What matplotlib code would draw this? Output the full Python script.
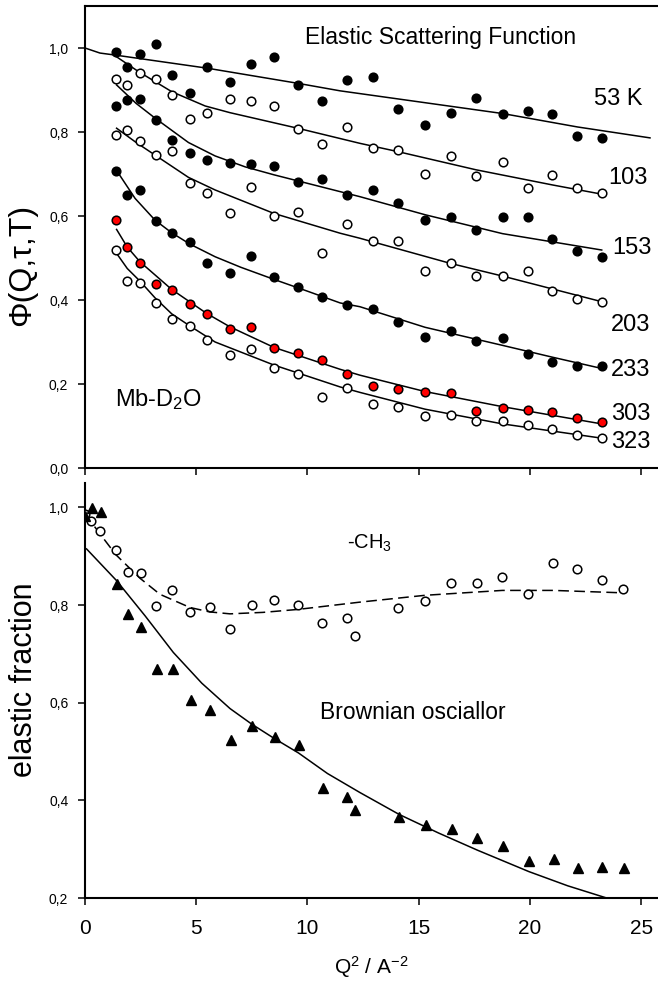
import matplotlib
matplotlib.use("Agg")
import matplotlib.pyplot as plt
from matplotlib.ticker import FuncFormatter

plt.rcParams['font.family'] = ['Liberation Sans', 'DejaVu Sans']
plt.rcParams['mathtext.default'] = 'regular'

# Q^2 grid of the measured points (top panel)
q2 = [1.38, 1.90, 2.47, 3.18, 3.93, 4.72, 5.49, 6.52, 7.46, 8.50, 9.56, 10.67,
      11.80, 12.93, 14.09, 15.29, 16.44, 17.58, 18.77, 19.93, 21.01, 22.14, 23.23]

phi_53 = [0.990, 0.955, 0.986, 1.010, 0.935, 0.894, 0.955, 0.920, 0.962, 0.979, 0.912, 0.874,
          0.925, 0.932, 0.854, 0.817, 0.846, 0.882, 0.844, 0.851, 0.844, 0.790, 0.786]
phi_103 = [0.927, 0.912, 0.940, 0.926, 0.889, 0.830, 0.846, 0.878, 0.875, 0.861, 0.807, 0.771,
           0.813, 0.763, 0.756, 0.700, 0.744, 0.696, 0.729, 0.667, 0.698, 0.667, 0.655]
phi_153 = [0.863, 0.876, 0.879, 0.829, 0.781, 0.750, 0.733, 0.726, 0.725, 0.720, 0.682, 0.687,
           0.649, 0.663, 0.630, 0.590, 0.597, 0.567, 0.597, 0.597, 0.545, 0.517, 0.503]
phi_203 = [0.793, 0.805, 0.779, 0.745, 0.755, 0.678, 0.654, 0.606, 0.668, 0.601, 0.610, 0.511,
           0.581, 0.541, 0.541, 0.468, 0.488, 0.457, 0.457, 0.468, 0.421, 0.402, 0.396]
phi_233 = [0.706, 0.651, 0.661, 0.589, 0.559, 0.537, 0.488, 0.464, 0.505, 0.454, 0.432, 0.408,
           0.388, 0.379, 0.348, 0.311, 0.327, 0.302, 0.310, 0.271, 0.252, 0.243, 0.243]
phi_303 = [0.590, 0.527, 0.487, 0.437, 0.424, 0.390, 0.367, 0.331, 0.335, 0.286, 0.275, 0.257,
           0.224, 0.195, 0.188, 0.182, 0.179, 0.136, 0.144, 0.138, 0.133, 0.120, 0.110]
phi_323 = [0.519, 0.445, 0.440, 0.392, 0.354, 0.338, 0.305, 0.269, 0.283, 0.237, 0.225, 0.168,
           0.190, 0.152, 0.145, 0.124, 0.127, 0.113, 0.112, 0.102, 0.092, 0.079, 0.071]

# fitted curves
fit53_x = [0, 0.67, 1.38, 5.49, 9.56, 11.47, 18.77, 22.14, 25.4]
fit53_y = [1.0, 0.988, 0.983, 0.952, 0.916, 0.898, 0.844, 0.812, 0.786]
fit103_x = [1.42, 2.40, 3.9, 5.4, 6.52, 9.56, 12.36, 14.09, 17.58, 21.01, 23.23]
fit103_y = [0.979, 0.944, 0.896, 0.862, 0.846, 0.809, 0.773, 0.753, 0.710, 0.674, 0.652]
fit153_x = [1.42, 2.3, 3.15, 4.65, 5.85, 7.2, 8.5, 11.47, 12.36, 15.29, 18.77, 23.23]
fit153_y = [0.912, 0.868, 0.833, 0.775, 0.743, 0.717, 0.698, 0.658, 0.646, 0.603, 0.558, 0.519]
fit203_x = [1.42, 2.3, 3.15, 4.65, 5.85, 8.5, 11.47, 12.36, 16.44, 18.77, 23.23]
fit203_y = [0.809, 0.775, 0.745, 0.692, 0.662, 0.606, 0.559, 0.547, 0.487, 0.457, 0.396]
fit233_x = [1.5, 2.25, 3.15, 3.9, 4.72, 5.85, 7.0, 8.5, 10.0, 11.47, 12.36, 15.29, 18.77, 21.0, 23.23]
fit233_y = [0.702, 0.642, 0.590, 0.560, 0.533, 0.503, 0.478, 0.449, 0.421, 0.393, 0.384, 0.335, 0.292, 0.264, 0.237]
fit303_x = [1.42, 1.9, 2.47, 3.9, 5.47, 6.52, 8.5, 11.47, 12.36, 15.29, 18.77, 23.23]
fit303_y = [0.568, 0.526, 0.491, 0.425, 0.368, 0.336, 0.287, 0.235, 0.221, 0.182, 0.146, 0.105]
fit323_x = [1.42, 1.9, 2.47, 3.15, 3.9, 4.72, 5.85, 8.5, 11.47, 12.36, 15.29, 18.77, 23.23]
fit323_y = [0.511, 0.475, 0.445, 0.405, 0.367, 0.338, 0.300, 0.245, 0.193, 0.180, 0.140, 0.105, 0.071]

# bottom panel
ch3_x = [0.0, 0.25, 0.67, 1.39, 1.92, 2.50, 3.19, 3.93, 4.72, 5.60, 6.52, 7.49, 8.51, 9.56,
         10.67, 11.79, 12.14, 14.09, 15.29, 16.44, 17.61, 18.76, 19.90, 21.06, 22.14, 23.23, 24.2]
ch3_y = [0.987, 0.972, 0.952, 0.913, 0.868, 0.866, 0.799, 0.830, 0.786, 0.796, 0.750, 0.801, 0.811, 0.801,
         0.764, 0.774, 0.737, 0.793, 0.809, 0.845, 0.846, 0.857, 0.822, 0.886, 0.874, 0.852, 0.832]
ch3_fit_x = [0, 0.67, 1.39, 2.47, 3.37, 4.72, 5.6, 6.52, 8.0, 9.56, 12.36, 15.29, 18.76, 21.06, 24.2]
ch3_fit_y = [0.987, 0.946, 0.903, 0.855, 0.822, 0.795, 0.786, 0.782, 0.785, 0.791, 0.806, 0.820, 0.830, 0.830, 0.825]

bo_x = [0.0, 0.30, 0.70, 1.42, 1.95, 2.52, 3.22, 3.97, 4.77, 5.63, 6.55, 7.52, 8.54, 9.61, 10.72,
        11.80, 12.14, 14.13, 15.32, 16.49, 17.64, 18.81, 19.96, 21.09, 22.17, 23.26, 24.25]
bo_y = [0.983, 0.998, 0.990, 0.844, 0.781, 0.755, 0.670, 0.670, 0.605, 0.585, 0.523, 0.552, 0.530, 0.513, 0.426,
        0.406, 0.380, 0.366, 0.349, 0.342, 0.322, 0.306, 0.276, 0.280, 0.261, 0.264, 0.262]
bo_fit_x = [0.07, 1.42, 2.7, 3.97, 5.25, 6.52, 7.5, 8.5, 9.6, 10.9, 12.36, 14.13, 15.9, 17.64, 19.96, 21.7, 23.45, 24.0]
bo_fit_y = [0.915, 0.850, 0.778, 0.703, 0.640, 0.588, 0.556, 0.527, 0.497, 0.455, 0.416, 0.371, 0.333, 0.298, 0.254, 0.225, 0.200, 0.193]

labels_T = ['53 K', '103', '153', '203', '233', '303', '323']
label_y = [0.879, 0.690, 0.524, 0.340, 0.233, 0.129, 0.062]
label_x = [22.89, 23.52, 23.70, 23.65, 23.65, 23.65, 23.65]

comma = FuncFormatter(lambda v, p: f"{v:.1f}".replace('.', ','))

fig = plt.figure(figsize=(6.58, 9.89), dpi=100)
ax1 = fig.add_axes([85/658, 1 - 468/989, 573/658, 462/989])
ax2 = fig.add_axes([85/658, 1 - 898/989, 573/658, 415/989])

ms = 6.2
mew = 1.1
lw = 1.1

series = [(phi_53, 'black'), (phi_103, 'white'), (phi_153, 'black'), (phi_203, 'white'),
          (phi_233, 'black'), (phi_303, 'red'), (phi_323, 'white')]
fits = [(fit53_x, fit53_y), (fit103_x, fit103_y), (fit153_x, fit153_y), (fit203_x, fit203_y),
        (fit233_x, fit233_y), (fit303_x, fit303_y), (fit323_x, fit323_y)]

for (fx, fy) in fits:
    ax1.plot(fx, fy, color='black', lw=lw, zorder=2)
for vals, fc in series:
    ax1.plot(q2, vals, 'o', ms=ms, mfc=fc, mec='black', mew=mew, zorder=3)

for t, x, y in zip(labels_T, label_x, label_y):
    ax1.text(x, y, t, fontsize=17, ha='left', va='center')
ax1.text(9.89, 1.026, 'Elastic Scattering Function', fontsize=16.5, ha='left', va='center')
ax1.text(1.35, 0.162, 'Mb-D$_2$O', fontsize=17, ha='left', va='center')

ax1.set_xlim(0, 25.76)
ax1.set_ylim(0, 1.1)
ax1.set_yticks([0, 0.2, 0.4, 0.6, 0.8, 1.0])
ax1.set_xticks([0, 5, 10, 15, 20, 25])
ax1.set_xticklabels([])
ax1.yaxis.set_major_formatter(comma)
ax1.spines['right'].set_visible(False)

ax2.plot(ch3_fit_x, ch3_fit_y, color='black', lw=lw, dashes=(7, 3.5), zorder=2)
ax2.plot(bo_fit_x, bo_fit_y, color='black', lw=lw, zorder=2)
ax2.plot(ch3_x, ch3_y, 'o', ms=ms, mfc='white', mec='black', mew=mew, zorder=3)
ax2.plot(bo_x, bo_y, '^', ms=7.5, mfc='black', mec='black', zorder=4)

ax2.text(11.78, 0.927, '-CH$_3$', fontsize=14.5, ha='left', va='center')
ax2.text(10.57, 0.579, 'Brownian osciallor', fontsize=16.5, ha='left', va='center')

ax2.set_xlim(0, 25.76)
ax2.set_ylim(0.2, 1.05)
ax2.set_yticks([0.2, 0.4, 0.6, 0.8, 1.0])
ax2.set_xticks([0, 5, 10, 15, 20, 25])
ax2.yaxis.set_major_formatter(comma)
ax2.spines['right'].set_visible(False)
ax2.spines['top'].set_visible(False)
ax2.set_xlabel('Q$^2$ / A$^{-2}$', fontsize=15, labelpad=12)

for ax in (ax1, ax2):
    for s in ax.spines.values():
        s.set_linewidth(1.5)
    ax.tick_params(direction='out', length=5, width=1.1)
    ax.tick_params(axis='y', labelsize=10, pad=7)
    ax.tick_params(axis='x', labelsize=15, pad=10)

narrow = ['Liberation Sans Narrow', 'Liberation Sans', 'DejaVu Sans']
fig.text(22/658, 1 - 265/989, 'Φ(Q,τ,T)', rotation=90, fontsize=23, family=narrow,
         ha='center', va='center')
fig.text(24/658, 1 - 680/989, 'elastic fraction', rotation=90, fontsize=22, family=narrow,
         ha='center', va='center')

fig.savefig('out.png', dpi=100)
